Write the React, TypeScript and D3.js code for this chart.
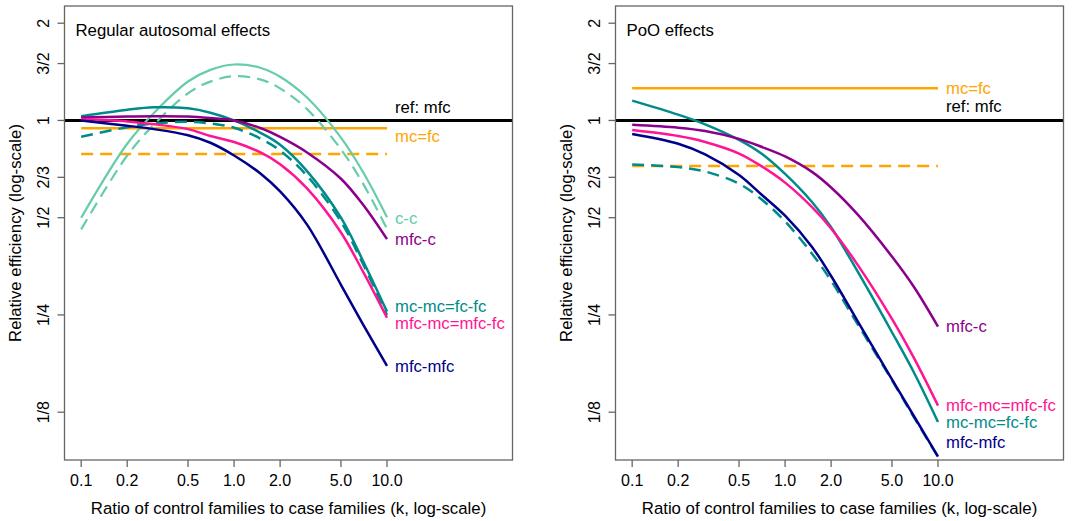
import React from "react";
import * as d3 from "d3";

// k values (ratio of control families to case families)
const K = [0.1, 0.2, 0.3, 0.5, 0.7, 1, 1.5, 2, 3, 5, 7, 10];

// Regular autosomal effects
const ccSolidL = [0.5, 0.847, 1.057, 1.32, 1.434, 1.49, 1.454, 1.366, 1.178, 0.885, 0.69, 0.502];
const ccDashL = [0.46, 0.779, 0.972, 1.214, 1.319, 1.371, 1.338, 1.257, 1.084, 0.814, 0.635, 0.462];
const tealSolidL = [1.03, 1.079, 1.098, 1.09, 1.057, 1.0, 0.914, 0.841, 0.697, 0.5, 0.366, 0.256];
const tealDashL = [0.89, 0.953, 0.979, 0.99, 0.979, 0.949, 0.877, 0.807, 0.674, 0.486, 0.358, 0.25];
const purpleL = [1.021, 1.028, 1.03, 1.028, 1.017, 1.0, 0.946, 0.889, 0.796, 0.66, 0.547, 0.429];
const pinkL = [1.01, 0.993, 0.973, 0.94, 0.895, 0.858, 0.795, 0.732, 0.616, 0.45, 0.339, 0.245];
const navyL = [1.0, 0.963, 0.94, 0.9, 0.853, 0.779, 0.683, 0.603, 0.476, 0.31, 0.233, 0.174];
const orangeSolidL = 0.946;
const orangeDashL = 0.788;

// PoO effects
const tealSolidR = [1.152, 1.042, 0.973, 0.871, 0.79, 0.683, 0.559, 0.467, 0.339, 0.221, 0.165, 0.1166];
const tealDashR = [0.73, 0.717, 0.695, 0.637, 0.57, 0.487, 0.387, 0.319, 0.233, 0.157, 0.12, 0.091];
const purpleR = [0.969, 0.949, 0.927, 0.877, 0.829, 0.774, 0.693, 0.62, 0.51, 0.379, 0.304, 0.23];
const pinkR = [0.934, 0.895, 0.858, 0.79, 0.722, 0.642, 0.539, 0.463, 0.356, 0.243, 0.183, 0.131];
const navyR = [0.908, 0.847, 0.785, 0.678, 0.59, 0.507, 0.406, 0.33, 0.238, 0.158, 0.121, 0.091];
const orangeSolidR = 1.258;
const orangeDashR = 0.723;

const xTicks = [0.1, 0.2, 0.5, 1, 2, 5, 10];
const xTickLabels = ["0.1", "0.2", "0.5", "1.0", "2.0", "5.0", "10.0"];
const yTicks = [2, 1.5, 1, 2 / 3, 1 / 2, 1 / 4, 1 / 8];
const yTickLabels = ["2", "3/2", "1", "2/3", "1/2", "1/4", "1/8"];

const labelsL = [
  { text: "ref: mfc", v: 1.1, color: "#000000" },
  { text: "mc=fc", v: 0.891, color: "#FFA500" },
  { text: "c-c", v: 0.496, color: "#66CDAA" },
  { text: "mfc-c", v: 0.427, color: "#8B008B" },
  { text: "mc-mc=fc-fc", v: 0.265, color: "#008B8B" },
  { text: "mfc-mc=mfc-fc", v: 0.236, color: "#FF1493" },
  { text: "mfc-mfc", v: 0.173, color: "#00008B" },
];
const labelsR = [
  { text: "mc=fc", v: 1.258, color: "#FFA500" },
  { text: "ref: mfc", v: 1.103, color: "#000000" },
  { text: "mfc-c", v: 0.23, color: "#8B008B" },
  { text: "mfc-mc=mfc-fc", v: 0.131, color: "#FF1493" },
  { text: "mc-mc=fc-fc", v: 0.116, color: "#008B8B" },
  { text: "mfc-mfc", v: 0.1007, color: "#00008B" },
];

const FONT = "'Liberation Sans', Arial, Helvetica, sans-serif";
const TOP = 6;
const BOTTOM = 460;
const PW = 448;

type Series = { vals: number[]; color: string; width: number; dash?: string };

function Panel({ left, title, series, hlines, labels }: {
  left: number;
  title: string;
  series: Series[];
  hlines: { v: number; color: string; width: number; dash?: string }[];
  labels: { text: string; v: number; color: string }[];
}) {
  const x = d3.scaleLog().domain([0.0778, 66.2]).range([left, left + PW]);
  const y = d3.scaleLog().base(2).domain([0.0889, 2.261]).range([BOTTOM, TOP]);
  const line = d3
    .line<[number, number]>()
    .x((d) => x(d[0]))
    .y((d) => y(d[1]))
    .curve(d3.curveCatmullRom.alpha(0.5));
  const midY = (TOP + BOTTOM) / 2;
  return (
    <g fontFamily={FONT}>
      <line x1={left} x2={left + PW} y1={y(1)} y2={y(1)} stroke="#000" strokeWidth={3} />
      {hlines.map((h, i) => (
        <line key={"h" + i} x1={x(0.1)} x2={x(10)} y1={y(h.v)} y2={y(h.v)} stroke={h.color}
          strokeWidth={h.width} strokeDasharray={h.dash} />
      ))}
      {series.map((s, i) => (
        <path key={"s" + i} d={line(K.map((k, j) => [k, s.vals[j]] as [number, number])) || ""}
          fill="none" stroke={s.color} strokeWidth={s.width} strokeDasharray={s.dash} />
      ))}
      <rect x={left} y={TOP} width={PW} height={BOTTOM - TOP} fill="none" stroke="#666" strokeWidth={1.3} />
      {xTicks.map((t, i) => (
        <g key={"xt" + i}>
          <line x1={x(t)} x2={x(t)} y1={BOTTOM} y2={BOTTOM + 7} stroke="#666" strokeWidth={1.3} />
          <text x={x(t)} y={480} textAnchor="middle" dominantBaseline="central" fontSize={16} fill="#000">
            {xTickLabels[i]}
          </text>
        </g>
      ))}
      {yTicks.map((t, i) => (
        <g key={"yt" + i}>
          <line x1={left - 7} x2={left} y1={y(t)} y2={y(t)} stroke="#666" strokeWidth={1.3} />
          <text transform={`translate(${left - 21},${y(t)}) rotate(-90)`} textAnchor="middle"
            dominantBaseline="central" fontSize={16} fill="#000">
            {yTickLabels[i]}
          </text>
        </g>
      ))}
      <text x={left + PW / 2} y={508} textAnchor="middle" dominantBaseline="central" fontSize={16.8}>
        Ratio of control families to case families (k, log-scale)
      </text>
      <text transform={`translate(${left - 49},${midY}) rotate(-90)`} textAnchor="middle"
        dominantBaseline="central" fontSize={16.8}>
        Relative efficiency (log-scale)
      </text>
      <text x={left + 11} y={30} dominantBaseline="central" fontSize={16.8}>{title}</text>
      {labels.map((l, i) => (
        <text key={"l" + i} x={x(10) + 8} y={y(l.v)} dominantBaseline="central" fontSize={16.7} fill={l.color}>
          {l.text}
        </text>
      ))}
    </g>
  );
}

export default function App() {
  const dash = "12,7";
  const seriesL: Series[] = [
    { vals: ccSolidL, color: "#66CDAA", width: 2.2 },
    { vals: ccDashL, color: "#66CDAA", width: 2.2, dash },
    { vals: tealSolidL, color: "#008B8B", width: 2.5 },
    { vals: tealDashL, color: "#008B8B", width: 2.5, dash },
    { vals: purpleL, color: "#8B008B", width: 2.5 },
    { vals: pinkL, color: "#FF1493", width: 2.5 },
    { vals: navyL, color: "#00008B", width: 2.5 },
  ];
  const seriesR: Series[] = [
    { vals: tealSolidR, color: "#008B8B", width: 2.5 },
    { vals: tealDashR, color: "#008B8B", width: 2.5, dash },
    { vals: purpleR, color: "#8B008B", width: 2.5 },
    { vals: pinkR, color: "#FF1493", width: 2.5 },
    { vals: navyR, color: "#00008B", width: 2.5 },
  ];
  return (
    <svg width={1089} height={521} style={{ position: "absolute", left: 0, top: 0, background: "#fff" }}>
      <rect width={1089} height={521} fill="#fff" />
      <Panel left={64.5} title="Regular autosomal effects" series={seriesL}
        hlines={[
          { v: orangeSolidL, color: "#FFA500", width: 2.5 },
          { v: orangeDashL, color: "#FFA500", width: 2.5, dash },
        ]}
        labels={labelsL} />
      <Panel left={615.5} title="PoO effects" series={seriesR}
        hlines={[
          { v: orangeSolidR, color: "#FFA500", width: 2.5 },
          { v: orangeDashR, color: "#FFA500", width: 2.5, dash },
        ]}
        labels={labelsR} />
    </svg>
  );
}
